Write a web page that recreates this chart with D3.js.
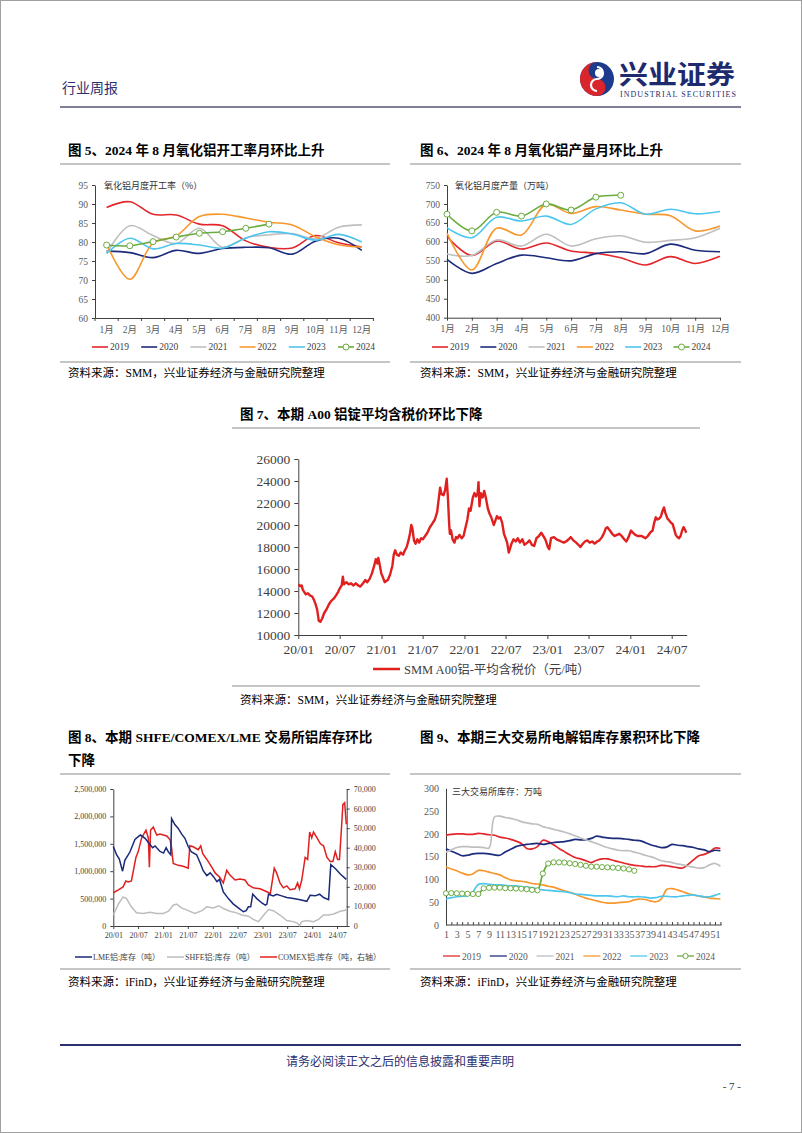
<!DOCTYPE html>
<html><head><meta charset="utf-8">
<script src="https://cdn.jsdelivr.net/npm/d3@7/dist/d3.min.js"></script>
<style>html,body{margin:0;padding:0;background:#fff;}svg{display:block}</style>
</head><body>
<script>
// ================= DATA =================
const months = ["1月","2月","3月","4月","5月","6月","7月","8月","9月","10月","11月","12月"];
const years = ["2019","2020","2021","2022","2023","2024"];

// Fig 5: alumina operating rate (%)
const rate2019 = [89.1, 90.6, 87.3, 87.1, 84.7, 84.3, 80.3, 78.6, 78.4, 81.7, 79.8, 78.7];
const rate2020 = [77.6, 77.2, 75.9, 77.8, 77.0, 78.3, 78.6, 78.5, 76.8, 80.2, 81.0, 77.8];
const rate2021 = [77.0, 84.3, 81.7, 79.6, 83.6, 78.6, 81.1, 81.9, 82.2, 80.9, 83.9, 84.5];
const rate2022 = [79.5, 70.2, 79.7, 81.6, 86.7, 87.3, 86.3, 85.2, 84.5, 81.4, 79.3, 78.7];
const rate2023 = [77.0, 81.0, 78.2, 79.6, 79.2, 78.4, 81.0, 82.7, 82.1, 80.5, 82.0, 80.0];
const rate2024 = [79.2, 79.0, 80.1, 81.3, 82.3, 82.7, 83.6, 84.7];
const rateTicks = [60, 65, 70, 75, 80, 85, 90, 95];

// Fig 6: alumina monthly output (10k t)
const prod2019 = [614, 564, 602, 581, 597, 576, 570, 558, 539, 561, 543, 562];
const prod2020 = [554, 517, 543, 565, 558, 550, 569, 574, 569, 594, 578, 574];
const prod2021 = [568, 564, 605, 589, 620, 589, 608, 616, 599, 604, 611, 636];
const prod2022 = [623, 526, 636, 618, 699, 675, 693, 684, 673, 669, 629, 642];
const prod2023 = [637, 611, 665, 655, 668, 646, 687, 703, 673, 686, 674, 680];
const prod2024 = [673, 629, 678, 668, 700, 684, 718, 723];
const prodTicks = [400, 450, 500, 550, 600, 650, 700, 750];

// Fig 7: SMM A00 aluminium average price (yuan/t)
const priceDates = ["2020-01-02","2020-01-09","2020-01-16","2020-01-21","2020-02-03","2020-02-12","2020-02-21","2020-03-02","2020-03-10","2020-03-17","2020-03-24","2020-03-31","2020-04-07","2020-04-15","2020-04-24","2020-05-06","2020-05-15","2020-05-25","2020-06-05","2020-06-15","2020-06-24","2020-07-03","2020-07-10","2020-07-15","2020-07-20","2020-07-31","2020-08-10","2020-08-20","2020-08-31","2020-09-10","2020-09-21","2020-09-30","2020-10-12","2020-10-22","2020-10-30","2020-11-10","2020-11-20","2020-11-30","2020-12-07","2020-12-14","2020-12-18","2020-12-24","2020-12-31","2021-01-08","2021-01-15","2021-01-22","2021-01-29","2021-02-08","2021-02-18","2021-02-24","2021-03-02","2021-03-10","2021-03-18","2021-03-26","2021-04-06","2021-04-14","2021-04-22","2021-04-30","2021-05-07","2021-05-12","2021-05-17","2021-05-24","2021-05-31","2021-06-08","2021-06-16","2021-06-24","2021-07-02","2021-07-12","2021-07-22","2021-08-02","2021-08-12","2021-08-24","2021-09-03","2021-09-10","2021-09-16","2021-09-22","2021-10-01","2021-10-08","2021-10-15","2021-10-20","2021-10-26","2021-10-29","2021-11-03","2021-11-10","2021-11-18","2021-11-25","2021-12-02","2021-12-10","2021-12-20","2021-12-28","2022-01-06","2022-01-14","2022-01-21","2022-01-28","2022-02-07","2022-02-14","2022-02-21","2022-02-28","2022-03-04","2022-03-08","2022-03-14","2022-03-22","2022-03-29","2022-04-06","2022-04-14","2022-04-22","2022-04-29","2022-05-10","2022-05-17","2022-05-24","2022-05-31","2022-06-08","2022-06-16","2022-06-24","2022-07-01","2022-07-08","2022-07-15","2022-07-20","2022-07-27","2022-08-05","2022-08-15","2022-08-24","2022-09-02","2022-09-13","2022-09-22","2022-10-05","2022-10-14","2022-10-25","2022-11-04","2022-11-14","2022-11-25","2022-12-05","2022-12-14","2022-12-23","2023-01-03","2023-01-09","2023-01-17","2023-01-30","2023-02-10","2023-02-21","2023-03-03","2023-03-14","2023-03-24","2023-04-05","2023-04-14","2023-04-25","2023-05-08","2023-05-17","2023-05-26","2023-06-06","2023-06-15","2023-06-26","2023-07-06","2023-07-17","2023-07-28","2023-08-08","2023-08-18","2023-08-29","2023-09-08","2023-09-15","2023-09-22","2023-10-03","2023-10-13","2023-10-24","2023-11-03","2023-11-14","2023-11-24","2023-12-05","2023-12-14","2023-12-22","2024-01-04","2024-01-12","2024-01-23","2024-02-02","2024-02-20","2024-02-28","2024-03-08","2024-03-18","2024-03-28","2024-04-08","2024-04-15","2024-04-22","2024-04-29","2024-05-08","2024-05-15","2024-05-22","2024-05-28","2024-06-03","2024-06-12","2024-06-20","2024-06-28","2024-07-05","2024-07-12","2024-07-19","2024-07-26","2024-08-02","2024-08-09","2024-08-16","2024-08-22","2024-08-28","2024-09-03"];
const priceValues = [14600,14450,14500,14100,13700,13800,13600,13500,13200,12800,12300,11300,11200,11500,12000,12400,12800,13100,13300,13600,13900,14300,14500,15300,14600,14800,14600,14700,14500,14700,14500,14400,14700,15000,14800,15100,15600,16300,16900,16500,17000,16400,15600,15200,14800,14900,15000,15500,16300,17300,17700,17300,17200,17500,17300,17700,18000,18600,19300,20000,19700,18600,18300,18700,18400,18800,18700,19000,19300,19800,20100,20500,21200,22400,23400,22800,22700,23200,24200,22600,20000,19200,19500,18700,18400,18900,18800,19100,18800,19000,19800,20500,21500,21300,22500,22900,22600,22900,23900,21700,22900,22500,23100,22400,21500,21000,20700,20000,20400,20800,20600,20700,20200,19200,18800,18400,17500,17800,18300,18700,18500,18800,18400,18700,18200,18400,18600,18200,18100,18800,19000,19300,19000,18700,18000,17800,18800,18900,18700,18600,18500,18400,18500,18700,18900,18600,18400,18200,18000,18300,18500,18600,18400,18500,18300,18500,18600,18900,19300,19700,19800,19500,19200,19000,19100,19200,19000,18700,18500,18800,19500,19300,19100,19000,19000,18900,18800,19000,19300,19500,20200,20700,20500,20600,20800,21300,21600,21100,20600,20400,20200,20100,19600,19100,18900,18800,19000,19500,19800,19600,19300];
const priceTicks = [10000, 12000, 14000, 16000, 18000, 20000, 22000, 24000, 26000];
const halfYearTicks = ["2020-01-01","2020-07-01","2021-01-01","2021-07-01","2022-01-01","2022-07-01","2023-01-01","2023-07-01","2024-01-01","2024-07-01"];

// Fig 8: exchange inventories
const lmeDates = ["2020-01-01","2020-01-25","2020-02-14","2020-03-09","2020-03-26","2020-05-02","2020-06-08","2020-07-02","2020-07-19","2020-08-21","2020-09-22","2020-10-16","2020-11-03","2020-12-09","2021-01-04","2021-01-23","2021-02-09","2021-02-26","2021-03-04","2021-03-28","2021-04-22","2021-05-16","2021-06-10","2021-07-04","2021-07-28","2021-09-04","2021-09-30","2021-10-24","2021-11-18","2021-12-12","2022-01-06","2022-01-31","2022-02-19","2022-03-19","2022-04-25","2022-06-01","2022-07-07","2022-08-13","2022-09-03","2022-09-19","2022-10-06","2022-10-21","2022-11-20","2022-12-27","2023-01-21","2023-02-02","2023-02-14","2023-03-21","2023-04-15","2023-05-21","2023-06-28","2023-08-16","2023-10-04","2023-11-22","2023-12-16","2024-01-23","2024-02-24","2024-03-24","2024-04-30","2024-05-16","2024-06-18","2024-07-25","2024-09-07"];
const lmeValues = [1450000,1300000,1220000,1000000,1200000,1350000,1580000,1630000,1660000,1600000,1500000,1430000,1460000,1360000,1330000,1430000,1350000,1300000,1960000,1850000,1780000,1680000,1600000,1450000,1350000,1300000,1150000,1000000,920000,970000,900000,810000,850000,620000,500000,400000,330000,260000,280000,350000,350000,580000,500000,420000,380000,400000,580000,550000,580000,550000,520000,500000,480000,450000,560000,550000,580000,520000,480000,1120000,1050000,950000,850000];
const shfeDates = ["2020-01-01","2020-02-07","2020-03-13","2020-04-07","2020-05-13","2020-06-19","2020-08-08","2020-09-27","2020-11-15","2021-01-04","2021-02-09","2021-03-16","2021-04-10","2021-05-16","2021-07-04","2021-08-22","2021-10-12","2021-11-18","2022-01-06","2022-02-12","2022-03-19","2022-05-07","2022-06-25","2022-08-01","2022-09-19","2022-10-25","2022-12-02","2023-01-10","2023-02-14","2023-03-21","2023-05-09","2023-06-28","2023-08-16","2023-09-15","2023-09-29","2023-10-16","2023-11-22","2024-01-10","2024-02-17","2024-03-24","2024-04-30","2024-06-06","2024-07-25","2024-09-07"];
const shfeValues = [200000,400000,530000,500000,350000,240000,230000,250000,230000,230000,270000,380000,400000,330000,280000,230000,280000,350000,330000,370000,320000,270000,240000,200000,180000,120000,80000,200000,300000,280000,200000,100000,80000,50000,5000,80000,100000,80000,120000,200000,200000,220000,270000,290000];
const comexDates = ["2020-01-01","2020-02-07","2020-03-13","2020-04-02","2020-04-19","2020-05-13","2020-06-01","2020-06-15","2020-07-02","2020-07-27","2020-08-28","2020-09-14","2020-09-22","2020-10-01","2020-10-21","2020-11-15","2020-12-09","2021-01-28","2021-02-21","2021-03-04","2021-03-16","2021-04-22","2021-05-28","2021-07-04","2021-07-16","2021-08-10","2021-09-16","2021-10-04","2021-10-19","2021-11-18","2021-12-25","2022-01-19","2022-02-19","2022-03-19","2022-04-13","2022-05-07","2022-06-13","2022-07-19","2022-08-25","2022-09-19","2022-10-25","2022-12-14","2023-02-02","2023-02-27","2023-03-28","2023-04-15","2023-05-09","2023-06-03","2023-06-28","2023-07-22","2023-08-28","2023-09-15","2023-09-29","2023-10-16","2023-11-10","2023-11-28","2023-12-13","2023-12-28","2024-01-10","2024-02-05","2024-03-01","2024-03-24","2024-04-18","2024-05-12","2024-06-01","2024-06-18","2024-07-05","2024-07-19","2024-07-30","2024-08-13","2024-08-26","2024-09-07"];
const comexValues = [17000,18500,20000,23000,22500,23000,30000,35000,38000,45000,49000,45000,30000,49000,50500,46500,47000,46000,44000,40000,32000,31000,30500,29500,41000,40500,39000,41000,37000,34000,30000,27000,25000,22000,28500,26000,23500,24000,23500,21000,19500,19000,17500,16500,29500,27000,22000,19500,20500,18500,19000,22000,19000,23500,35000,34000,48000,45000,48000,45000,42000,41000,35000,33000,33000,38000,34000,34000,46000,62000,63000,52000];
const invLeftTicks = [0, 500000, 1000000, 1500000, 2000000, 2500000];
const invRightTicks = [0, 10000, 20000, 30000, 40000, 50000, 60000, 70000];
const invNames = ["LME铝:库存（吨）", "SHFE铝:库存（吨）", "COMEX铝:库存（吨，右轴）"];

// Fig 9: three exchanges combined stock (10k t), weekly
const weeks = d3.range(1, 53);
const stock2019 = [197,199,200,200,199,199,201,200,198,197,193,191,188,184,179,168,167,172,186,183,176,168,161,154,148,145,141,137,142,145,145,142,139,136,133,131,130,128,128,128,131,130,128,126,125,133,143,152,155,160,169,168];
const stock2020 = [167,162,157,152,153,156,157,157,156,154,153,160,166,172,175,177,178,179,177,179,181,182,183,185,188,187,187,190,195,193,191,190,190,189,188,186,185,181,176,173,170,171,177,175,174,172,170,167,165,161,164,163];
const stock2021 = [160,165,170,172,172,171,171,170,169,237,239,236,234,231,227,224,222,221,216,213,210,207,204,200,196,191,187,183,179,174,170,167,164,163,163,160,157,153,150,146,141,139,137,134,132,129,127,125,126,132,135,129];
const stock2022 = [127,123,119,114,110,112,120,119,116,113,110,104,99,97,96,94,91,90,88,85,83,79,75,72,68,63,59,56,53,50,48,48,49,50,51,55,57,56,53,51,57,78,80,77,73,69,66,63,61,59,58,57];
const stock2023 = [57,60,62,63,64,73,89,91,89,88,88,87,86,86,84,83,82,79,77,76,75,74,73,71,68,67,66,65,64,64,64,63,62,64,62,62,62,61,59,60,63,63,62,62,64,65,66,64,62,62,65,69];
const stock2024 = [69.5,70,69.5,69,68.5,68,68,80.5,81.5,82,82,81,80.5,80,79.5,78.5,77,76,113,135,137.5,137.5,137,135.5,134,132,130,128,128,127,126.5,126,125,124,122,119];
const stockTicks = [0, 50, 100, 150, 200, 250, 300];

// ================= STYLE =================
const yearColors = ["#e2262b", "#1c2b7c", "#bfbfbf", "#f7982f", "#4cc6ee", "#6aac3f"];
const SERIF = '"Liberation Serif","Noto Sans CJK SC",serif';
const CJK = '"Noto Sans CJK SC","Liberation Serif",sans-serif';
const NAVY = "#2c2f6f";
const AX = "#404040";

const svg = d3.select("body").append("svg").attr("width", 802).attr("height", 1133);
svg.append("rect").attr("x", 0).attr("y", 0).attr("width", 802).attr("height", 1133).attr("fill", "#fff");
svg.append("rect").attr("x", 0.5).attr("y", 0.5).attr("width", 801).attr("height", 1132).attr("fill", "none").attr("stroke", "#a0a0a0");

function T(x, y, s, o = {}) {
  const t = svg.append("text").attr("x", x).attr("y", y).text(s)
    .attr("font-family", o.ff || SERIF).attr("font-size", o.fs || 12).attr("fill", o.fill || "#000");
  if (o.fw) t.attr("font-weight", o.fw);
  if (o.anchor) t.attr("text-anchor", o.anchor);
  return t;
}
function L(x1, y1, x2, y2, c, w) {
  svg.append("line").attr("x1", x1).attr("y1", y1).attr("x2", x2).attr("y2", y2).attr("stroke", c).attr("stroke-width", w || 1);
}
function styleAxis(g, fs, col) {
  g.attr("font-family", SERIF);
  g.selectAll("text").attr("font-family", SERIF).attr("font-size", fs).attr("fill", col || "#595959");
  g.selectAll(".tick line").attr("stroke", AX);
  g.select(".domain").attr("stroke", AX);
}

// ================= HEADER / FOOTER =================
T(62, 93, "行业周报", { ff: CJK, fs: 14, fill: NAVY });
// logo
const lg = svg.append("g").attr("transform", "translate(597,79)");
lg.append("circle").attr("r", 17).attr("fill", "#1d3b8c");
lg.append("path").attr("d", "M0,-17 A17,17 0 0 0 0,17 A8.5,8.5 0 0 0 0,0 A8.5,8.5 0 0 1 0,-17 Z").attr("fill", "#d8262c");
lg.append("path").attr("d", "M0,-12 A6,6 0 0 1 0,0 A6,6 0 0 0 0,12").attr("fill", "none").attr("stroke", "#fff").attr("stroke-width", 2.2);
lg.append("circle").attr("r", 4).attr("cx", 2).attr("cy", -6).attr("fill", "#fff");
T(619, 84, "兴业证券", { ff: CJK, fs: 26, fw: 700, fill: "#1d2a6e" }).attr("textLength", 116).attr("lengthAdjust", "spacingAndGlyphs");
T(620, 97, "INDUSTRIAL SECURITIES", { fs: 8, fill: "#1d2a6e" }).attr("textLength", 116).attr("lengthAdjust", "spacing");
L(60, 107, 741, 107, "#7e8098", 2);

L(60, 1045, 741, 1045, NAVY, 2.2);
T(400, 1066, "请务必阅读正文之后的信息披露和重要声明", { ff: CJK, fs: 12, fill: NAVY, anchor: "middle" });
T(741, 1090, "- 7 -", { fs: 11, fill: "#333", anchor: "end" });

// ================= TITLES / RULES / SOURCES =================
T(68, 155, "图 5、2024 年 8 月氧化铝开工率月环比上升", { fs: 13.5, fw: 700 });
T(420, 155, "图 6、2024 年 8 月氧化铝产量月环比上升", { fs: 13.5, fw: 700 });
L(60, 164, 390, 164, "#8c8c8c", 1.2); L(410, 164, 741, 164, "#8c8c8c", 1.2);
L(60, 362, 390, 362, "#8c8c8c", 1.2); L(410, 362, 741, 362, "#8c8c8c", 1.2);
T(68, 377, "资料来源：SMM，兴业证券经济与金融研究院整理", { fs: 11.5 });
T(420, 377, "资料来源：SMM，兴业证券经济与金融研究院整理", { fs: 11.5 });

T(240, 419, "图 7、本期 A00 铝锭平均含税价环比下降", { fs: 13.5, fw: 700 });
L(232, 428, 700, 428, "#8c8c8c", 1.2);
L(232, 686, 700, 686, "#8c8c8c", 1.2);
T(240, 704, "资料来源：SMM，兴业证券经济与金融研究院整理", { fs: 11.5 });

T(68, 742, "图 8、本期 SHFE/COMEX/LME 交易所铝库存环比", { fs: 13.5, fw: 700 });
T(68, 765, "下降", { fs: 13.5, fw: 700 });
T(420, 742, "图 9、本期三大交易所电解铝库存累积环比下降", { fs: 13.5, fw: 700 });
L(60, 774, 390, 774, "#8c8c8c", 1.2); L(410, 774, 741, 774, "#8c8c8c", 1.2);
L(60, 969, 390, 969, "#8c8c8c", 1.2); L(410, 969, 741, 969, "#8c8c8c", 1.2);
T(68, 986, "资料来源：iFinD，兴业证券经济与金融研究院整理", { fs: 11.5 });
T(420, 986, "资料来源：iFinD，兴业证券经济与金融研究院整理", { fs: 11.5 });

// ================= monthly charts (Fig 5, Fig 6) =================
function monthlyChart(cfg) {
  const g = svg.append("g");
  const x = cfg.band ? d3.scaleBand().domain(months).range(cfg.xr) : d3.scalePoint().domain(months).range(cfg.xr);
  const xc = m => cfg.band ? x(m) + x.bandwidth() / 2 : x(m);
  const y = d3.scaleLinear().domain(cfg.yd).range(cfg.yr);
  const ya = g.append("g").attr("transform", `translate(${cfg.xr[0]},0)`)
    .call(d3.axisLeft(y).tickValues(cfg.yticks).tickSize(3).tickSizeOuter(0).tickPadding(4));
  styleAxis(ya, 9.5);
  const xa = g.append("g").attr("transform", `translate(0,${cfg.yr[0]})`)
    .call(d3.axisBottom(x).tickSize(cfg.band ? 0 : 3).tickSizeOuter(0).tickPadding(cfg.band ? 8 : 5));
  styleAxis(xa, 9.5);
  if (cfg.band) {
    const b = months.map(m => x(m)).concat([cfg.xr[1]]);
    g.selectAll(".bt").data(b).enter().append("line")
      .attr("x1", d => d).attr("x2", d => d).attr("y1", cfg.yr[0]).attr("y2", cfg.yr[0] + 3).attr("stroke", AX);
  }
  g.append("text").attr("x", cfg.titleX).attr("y", cfg.yr[1] + 4).text(cfg.title)
    .attr("font-family", CJK).attr("font-size", 9).attr("fill", "#333");
  const line = d3.line().x((d, i) => xc(months[i])).y(d => y(d)).curve(d3.curveCatmullRom.alpha(0.5));
  cfg.series.forEach((s, k) => {
    g.append("path").datum(s).attr("d", line).attr("fill", "none")
      .attr("stroke", yearColors[k]).attr("stroke-width", 1.6);
  });
  const last = cfg.series[5];
  g.selectAll(".mk").data(last).enter().append("circle")
    .attr("cx", (d, i) => xc(months[i])).attr("cy", d => y(d)).attr("r", 3)
    .attr("fill", "#fff").attr("stroke", yearColors[5]).attr("stroke-width", 1);
  // legend
  years.forEach((yr, k) => {
    const lx = cfg.legX + k * cfg.legStep;
    g.append("line").attr("x1", lx).attr("x2", lx + 16).attr("y1", cfg.legY).attr("y2", cfg.legY)
      .attr("stroke", yearColors[k]).attr("stroke-width", 1.6);
    if (k === 5) g.append("circle").attr("cx", lx + 8).attr("cy", cfg.legY).attr("r", 3)
      .attr("fill", "#fff").attr("stroke", yearColors[5]);
    g.append("text").attr("x", lx + 18).attr("y", cfg.legY + 3.3).text(yr)
      .attr("font-family", SERIF).attr("font-size", 9.5).attr("fill", "#404040");
  });
}
monthlyChart({ series: [rate2019, rate2020, rate2021, rate2022, rate2023, rate2024], band: true,
  xr: [95, 373.4], yd: [60, 95], yr: [318, 185], yticks: rateTicks, title: "氧化铝月度开工率（%）", titleX: 104,
  legX: 92, legY: 347, legStep: 49.2 });
monthlyChart({ series: [prod2019, prod2020, prod2021, prod2022, prod2023, prod2024], band: false,
  xr: [447, 720], yd: [400, 750], yr: [317.7, 185], yticks: prodTicks, title: "氧化铝月度产量（万吨）", titleX: 455,
  legX: 432, legY: 347, legStep: 48.3 });

// ================= Fig 7 price =================
const parse = d3.timeParse("%Y-%m-%d");
(function () {
  const g = svg.append("g");
  const x = d3.scaleTime().domain([parse("2020-01-01"), parse("2024-09-05")]).range([298.3, 686.7]);
  const y = d3.scaleLinear().domain([10000, 26000]).range([635, 459]);
  const ya = g.append("g").attr("transform", "translate(298.3,0)")
    .call(d3.axisLeft(y).tickValues(priceTicks).tickSize(4).tickSizeOuter(0).tickFormat(d3.format("d")).tickPadding(4));
  styleAxis(ya, 13.5, "#404040");
  const xa = g.append("g").attr("transform", "translate(0,635)")
    .call(d3.axisBottom(x).tickValues(halfYearTicks.map(parse)).tickSize(4).tickSizeOuter(0).tickFormat(d3.timeFormat("%y/%m")).tickPadding(5));
  styleAxis(xa, 13.5, "#404040");
  const pts = priceDates.map((d, i) => [parse(d), priceValues[i]]);
  g.append("path").datum(pts).attr("d", d3.line().x(d => x(d[0])).y(d => y(d[1])))
    .attr("fill", "none").attr("stroke", "#e0201f").attr("stroke-width", 2.4).attr("stroke-linejoin", "round");
  g.append("line").attr("x1", 373).attr("x2", 400).attr("y1", 669).attr("y2", 669).attr("stroke", "#e0201f").attr("stroke-width", 2.5);
  g.append("text").attr("x", 404).attr("y", 673.5).text("SMM A00铝-平均含税价（元/吨）")
    .attr("font-family", SERIF).attr("font-size", 12.5).attr("fill", "#404040");
})();

// ================= Fig 8 inventories =================
(function () {
  const g = svg.append("g");
  const x = d3.scaleTime().domain([parse("2020-01-01"), parse("2024-09-10")]).range([113.3, 346.7]);
  const yl = d3.scaleLinear().domain([0, 2500000]).range([926, 789]);
  const yr = d3.scaleLinear().domain([0, 70000]).range([926, 789]);
  const la = g.append("g").attr("transform", "translate(113.3,0)")
    .call(d3.axisLeft(yl).tickValues(invLeftTicks).tickSize(3).tickSizeOuter(0).tickFormat(d3.format(",")).tickPadding(4));
  styleAxis(la, 8, "#404040");
  const ra = g.append("g").attr("transform", "translate(346.7,0)")
    .call(d3.axisRight(yr).tickValues(invRightTicks).tickSize(3).tickSizeOuter(0).tickFormat(d3.format(",")).tickPadding(4));
  styleAxis(ra, 8, "#404040");
  const xa = g.append("g").attr("transform", "translate(0,926)")
    .call(d3.axisBottom(x).tickValues(halfYearTicks.map(parse)).tickSize(3).tickSizeOuter(0).tickFormat(d3.timeFormat("%y/%m")).tickPadding(3));
  styleAxis(xa, 8, "#404040");
  const mk = (ds, vs) => ds.map((d, i) => [parse(d), vs[i]]);
  g.append("path").datum(mk(shfeDates, shfeValues)).attr("d", d3.line().x(d => x(d[0])).y(d => yl(d[1])))
    .attr("fill", "none").attr("stroke", "#bdbdbd").attr("stroke-width", 1.5);
  g.append("path").datum(mk(comexDates, comexValues)).attr("d", d3.line().x(d => x(d[0])).y(d => yr(d[1])))
    .attr("fill", "none").attr("stroke", "#e0201f").attr("stroke-width", 1.5);
  g.append("path").datum(mk(lmeDates, lmeValues)).attr("d", d3.line().x(d => x(d[0])).y(d => yl(d[1])))
    .attr("fill", "none").attr("stroke", "#1a2a78").attr("stroke-width", 1.5);
  const cols = ["#1a2a78", "#bdbdbd", "#e0201f"];
  const lxs = [75, 167, 260];
  invNames.forEach((n, k) => {
    g.append("line").attr("x1", lxs[k]).attr("x2", lxs[k] + 17).attr("y1", 957).attr("y2", 957).attr("stroke", cols[k]).attr("stroke-width", 1.5);
    g.append("text").attr("x", lxs[k] + 18).attr("y", 960).text(n).attr("font-family", SERIF).attr("font-size", 8).attr("fill", "#404040");
  });
})();

// ================= Fig 9 weekly stock =================
(function () {
  const g = svg.append("g");
  const x = d3.scalePoint().domain(weeks).range([446, 720.4]);
  const y = d3.scaleLinear().domain([0, 300]).range([925, 788.3]);
  const ya = g.append("g").attr("transform", "translate(446,0)")
    .call(d3.axisLeft(y).tickValues(stockTicks).tickSize(0).tickPadding(7));
  styleAxis(ya, 10, "#595959");
  const xa = g.append("g").attr("transform", "translate(0,925)")
    .call(d3.axisBottom(x).tickSize(-3).tickSizeOuter(0).tickPadding(6).tickFormat(w => w % 2 ? w : ""));
  styleAxis(xa, 10, "#595959");
  xa.select(".domain").attr("d", "M446,0H721.7");
  g.append("text").attr("x", 452).attr("y", 795).text("三大交易所库存：万吨")
    .attr("font-family", CJK).attr("font-size", 9).attr("fill", "#333");
  const series = [stock2019, stock2020, stock2021, stock2022, stock2023, stock2024];
  const line = d3.line().x((d, i) => x(weeks[i])).y(d => y(d)).curve(d3.curveCatmullRom.alpha(0.5));
  series.forEach((s, k) => {
    g.append("path").datum(s).attr("d", line).attr("fill", "none").attr("stroke", yearColors[k]).attr("stroke-width", 1.7);
  });
  g.selectAll(".mk").data(stock2024).enter().append("circle")
    .attr("cx", (d, i) => x(weeks[i])).attr("cy", d => y(d)).attr("r", 2.6)
    .attr("fill", "#fff").attr("stroke", yearColors[5]).attr("stroke-width", 1);
  years.forEach((yr, k) => {
    const lx = 443 + k * 46.8;
    g.append("line").attr("x1", lx).attr("x2", lx + 17).attr("y1", 956).attr("y2", 956)
      .attr("stroke", yearColors[k]).attr("stroke-width", 1.7).attr("opacity", 0.75);
    if (k === 5) g.append("circle").attr("cx", lx + 8.5).attr("cy", 956).attr("r", 2.6).attr("fill", "#fff").attr("stroke", yearColors[5]);
    g.append("text").attr("x", lx + 19).attr("y", 959.5).text(yr).attr("font-family", SERIF).attr("font-size", 9.5).attr("fill", "#595959");
  });
})();
</script>
</body></html>
